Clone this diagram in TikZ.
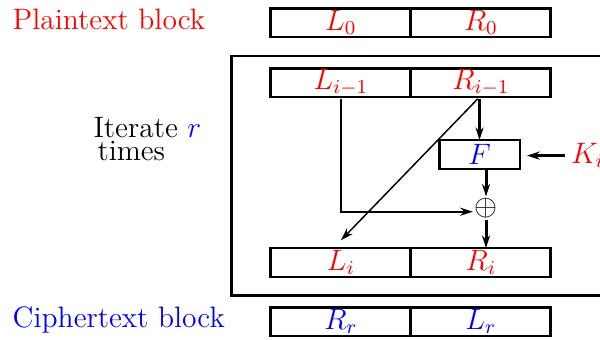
\documentclass[tikz,border=0pt]{standalone}
\usepackage{amsmath}
\usepackage{amssymb}
\usepackage{tikz}
\usetikzlibrary{positioning,arrows.meta}

\tikzset{
  half/.style={draw,very thick,minimum width=2cm,minimum height=4.14mm,inner sep=0pt,outer sep=0pt},
  fbox/.style={draw,very thick,minimum width=1.157cm,minimum height=4.14mm,inner sep=0pt,outer sep=0pt,text=blue},
  lbl/.style={anchor=base west,inner sep=0pt},
}

\begin{document}
\begin{tikzpicture}[font=\fontsize{12}{14.5}\selectfont,>={Stealth[length=1.8mm,width=1.15mm]}]
\useasboundingbox (0,0) rectangle (8.571,4.843);
%\draw[help lines,step=1cm] (0,0) grid (9,5);
% plaintext
\node[lbl,text=red] (plain) at (0.175,4.424) {Plaintext block};
\node[half,text=red] (L0) at (4.87,4.521) {$L_0$};
\node[half,text=red,right=0pt of L0] (R0) {$R_0$};
% one round
\draw[very thick] (3.307,4.043) rectangle (9,0.621);
\node[lbl] (iter) at (1.329,2.881) {Iterate \textcolor{blue}{$r$}};
\node[lbl] (times) at (1.386,2.557) {times};
\node[half,text=red] (Lp) at (4.87,3.664) {$L_{i-1}$};
\node[half,text=red,right=0pt of Lp] (Rp) {$R_{i-1}$};
\node[fbox] (F) at (6.85,2.636) {$F$};
\node[anchor=west,inner sep=0.8mm,text=red] (K) at (8.07,2.62) {$K_i$};
\node[inner sep=0.5pt] (xor) at (6.943,1.871) {$\oplus$};
\node[half,text=red] (Li) at (4.87,1.093) {$L_i$};
\node[half,text=red,right=0pt of Li] (Ri) {$R_i$};
\draw[->,very thick,shorten <=1pt] (F.north |- Rp.south) -- (F.north);
\draw[->,very thick,shorten >=1mm] (K.west) -- (F.east |- K.west);
\draw[->,very thick] (F.south -| xor) -- (xor.north);
\draw[->,very thick] (xor.south) -- (Ri.north -| xor);
\draw[->,thick,shorten <=1pt] (Lp.south) |- ([yshift=-1.5pt]xor.west);
\draw[->,semithick,shorten <=1pt] (F.north |- Rp.south) -- ([yshift=1.1mm]Li.north);
% ciphertext
\node[lbl,text=blue] (cipher) at (0.175,0.167) {Ciphertext block};
\node[half,text=blue] (Rr) at (4.87,0.25) {$R_r$};
\node[half,text=blue,right=0pt of Rr] (Lr) {$L_r$};
\end{tikzpicture}
\end{document}
